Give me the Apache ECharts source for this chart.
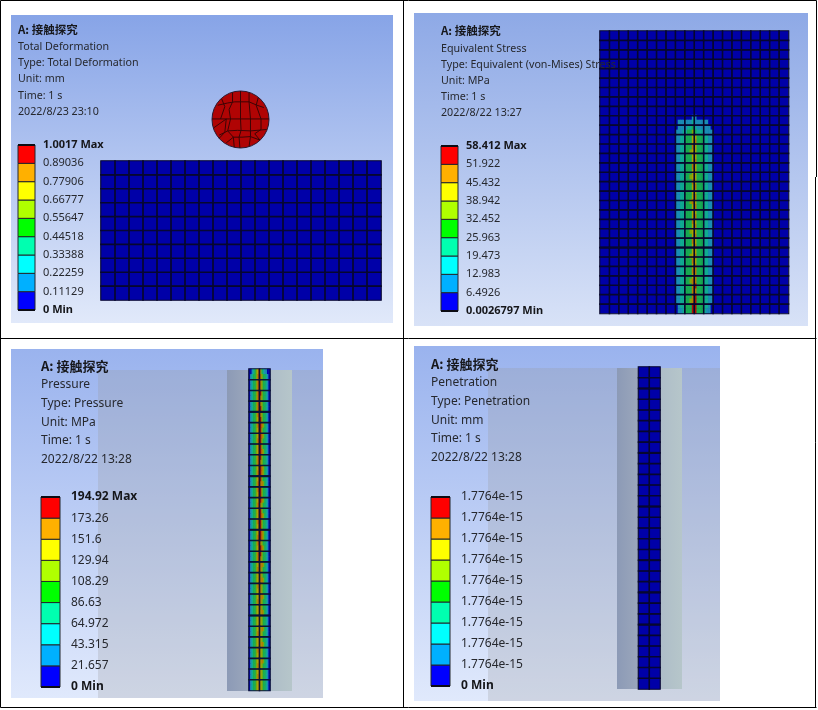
<!DOCTYPE html>
<html>
<head>
<meta charset="utf-8">
<title>接触探究</title>
<script src="https://cdn.jsdelivr.net/npm/echarts@6/dist/echarts.min.js"></script>
<style>
    html, body { margin: 0; padding: 0; background: #fff; }
    #chart { width: 818px; height: 710px; filter: blur(0.35px); }
</style>
</head>
<body>
<div id="chart"></div>
<script>
// text block of each result
const deformHeader = ['A: 接触探究', 'Total Deformation', 'Type: Total Deformation', 'Unit: mm', 'Time: 1 s', '2022/8/23 23:10']
const stressHeader = ['A: 接触探究', 'Equivalent Stress', 'Type: Equivalent (von-Mises) Stress', 'Unit: MPa', 'Time: 1 s', '2022/8/22 13:27']
const pressureHeader = ['A: 接触探究', 'Pressure', 'Type: Pressure', 'Unit: MPa', 'Time: 1 s', '2022/8/22 13:28']
const penetrationHeader = ['A: 接触探究', 'Penetration', 'Type: Penetration', 'Unit: mm', 'Time: 1 s', '2022/8/22 13:28']

// legend tick labels, bottom to top
const deformTicks = ['0 Min', '0.11129', '0.22259', '0.33388', '0.44518', '0.55647', '0.66777', '0.77906', '0.89036', '1.0017 Max']
const stressTicks = ['0.0026797 Min', '6.4926', '12.983', '19.473', '25.963', '32.452', '38.942', '45.432', '51.922', '58.412 Max']
const pressureTicks = ['0 Min', '21.657', '43.315', '64.972', '86.63', '108.29', '129.94', '151.6', '173.26', '194.92 Max']
const penetrationTicks = ['0 Min', '1.7764e-15', '1.7764e-15', '1.7764e-15', '1.7764e-15', '1.7764e-15', '1.7764e-15', '1.7764e-15', '1.7764e-15', '1.7764e-15']

// legend bands: lower and upper tick index, bottom to top
const legendBands = [[0, 1], [1, 2], [2, 3], [3, 4], [4, 5], [5, 6], [6, 7], [7, 8], [8, 9]]
const legendColors = ['#0000ff', '#00b0ff', '#00ffff', '#00ffb0', '#00ff00', '#b0ff00', '#ffff00', '#ffb000', '#ff0000']
const fieldColors = ['#0000a8', '#1a8cb4', '#00a8a8', '#10ac90', '#18ac50', '#7aa808', '#aca400', '#b87800', '#b01000']

// contour band per cell
const deformRows = [
    '00000000000000000000', '00000000000000000000', '00000000000000000000', '00000000000000000000', '00000000000000000000',
    '00000000000000000000', '00000000000000000000', '00000000000000000000', '00000000000000000000', '00000000000000000000',
]
const stressRows = [
    '0000000110000000', '0111111311111100', '0111133431111110', '1113344543331111',
    '1133444664443311', '1133444674443311', '1133444764443311', '1133445664443311',
    '1133444664443311', '1133444674443311', '1133444764443311', '1133444664443311',
    '1133445664443311', '1133444764443311', '1133444674443311', '1133444664443311',
    '1133444674443311', '1133445764443311', '1133444674443311', '1133444664443311',
    '1133444674443311', '1133444764443311', '1133444674443311', '1133445664443311',
    '1133444674443311', '1133444764443311', '1133444674443311', '1133444664443311',
    '1133445674443311', '1133444764443311', '1133444674443311', '1133444774443311',
    '1133444674443311', '1133445774443311', '1133444784443311', '1133444774443311',
    '1133444784443311', '1133445784443311', '0133444884443310', '0113444884443110',
]
const pressureRows = [
    '001345686431100', '013445787544310', '013445787544310', '013445787544310', '013445788544310', '013445787544310',
    '013445787544310', '013445788544310', '013445787544310', '013445688544310', '013445788754310', '013445688544310',
    '013445688754310', '013445788544310', '013445688544310', '013445688754310', '013445788544310', '013445787544310',
    '013445688754310', '013445788754310', '013445688544310', '013445787754310', '013445788544310', '013445688544310',
    '013445688754310', '013445787544310', '013445688544310', '013445688754310', '013445788544310', '013445688544310',
    '013445688754310', '013445788754310', '013445787544310', '013445688754310', '013445788544310', '013445787544310',
    '013445677754310', '013445777544310', '013445677544310', '013445677754310', '013445777544310', '013445677544310',
    '013445677754310', '013445777544310', '013445677544310', '013445676754310', '013445676544310', '013445676544310',
    '013445676754310', '013445776544310', '013445676544310', '013445676754310', '013445776544310', '013445676544310',
    '013445676754310', '013445776544310', '013445676544310', '013445776544310', '013445676544310', '013445676544310',
]
const penetrationRows = [
    '00', '00', '00', '00', '00', '00', '00', '00', '00', '00',
    '00', '00', '00', '00', '00', '00', '00', '00', '00', '00',
    '00', '00', '00', '00', '00', '00', '00', '00', '00', '00',
]

// mesh size and the heavier element rows of each result
const deformMesh = { cols: 20, rows: 10, heavy: [] }
const stressMesh = { cols: 20, rows: 30, heavy: [23] }
const pressureMesh = { cols: 2, rows: 30, heavy: [4, 10, 15, 23] }
const penetrationMesh = { cols: 2, rows: 30, heavy: [2, 8, 13, 18, 21, 24] }

// mesh of the ball, in radius units from its centre
const ballCentre = [[0, 0]]
const ballMeshLines = [
    [[-1, 0.02], [1, 0.02]],
    [[-0.8, 0.5], [-0.45, 0.58], [-0.2, 0.62], [0.3, 0.62], [0.58, 0.5], [0.82, 0.42]],
    [[-0.75, -0.55], [-0.45, -0.4], [-0.1, -0.38], [0.35, -0.4], [0.92, -0.35]],
    [[-0.5, -0.82], [-0.25, -0.62], [0.05, -0.62], [0.35, -0.6], [0.68, -0.72]],
    [[-0.28, 0.95], [-0.28, 0.62], [-0.4, 0.35], [-0.35, 0.02], [-0.45, -0.4], [-0.25, -0.62], [-0.22, -0.97]],
    [[0, 1], [0, 0.02], [0.02, -0.38], [-0.05, -0.62], [-0.02, -1]],
    [[0.3, 0.95], [0.3, 0.62], [0.35, 0.02], [0.35, -0.4], [0.35, -0.6], [0.3, -0.95]],
    [[0.62, 0.76], [0.55, 0.5], [0.72, 0.02], [0.72, -0.35], [0.5, -0.5], [0.68, -0.72]],
    [[-0.66, 0.72], [-0.55, 0.45], [-0.7, 0.02]],
    [[-0.95, -0.3], [-0.5, 0.02], [-0.55, -0.45], [-0.75, -0.66]],
]

var grids = [], xAxes = [], yAxes = [], series = [], graphics = []

function addGrid(rect, xAxis, yAxis, extra) {
    grids.push(Object.assign({ left: rect[0], top: rect[1], width: rect[2], height: rect[3] }, extra))
    xAxes.push(Object.assign({ gridIndex: grids.length - 1 }, xAxis))
    yAxes.push(Object.assign({ gridIndex: grids.length - 1 }, yAxis))
    return grids.length - 1
}

function range(n) {
    var list = []
    for (var i = 0; i < n; i++) list.push(i)
    return list
}

function addCategoryGrid(rect, cols, rows) {
    return addGrid(rect,
        { type: 'category', show: false, data: range(cols) },
        { type: 'category', show: false, inverse: true, data: range(rows) })
}

// contour cells through a category grid
function addField(rect, rows) {
    var idx = addCategoryGrid(rect, rows[0].length, rows.length)
    var cells = []
    rows.forEach(function (row, r) {
        row.split('').forEach(function (level, c) {
            cells.push({ value: [c, r, +level], itemStyle: { color: fieldColors[+level] } })
        })
    })
    series.push({ type: 'heatmap', xAxisIndex: idx, yAxisIndex: idx, data: cells, silent: true, z: 2 })
}

// elements are empty outlined cells laid over the contour
function addMesh(rect, mesh, lineColor) {
    var idx = addCategoryGrid(rect, mesh.cols, mesh.rows)
    var cells = []
    range(mesh.rows).forEach(function (r) {
        range(mesh.cols).forEach(function (c) {
            cells.push([c, r, 0])
        })
    })
    series.push({
        type: 'heatmap', xAxisIndex: idx, yAxisIndex: idx, data: cells, silent: true, z: 5,
        itemStyle: { color: 'rgba(0,0,0,0)', borderColor: lineColor, borderWidth: 1.1 },
    })
    var lineIdx = addGrid(rect,
        { type: 'value', show: false, min: 0, max: mesh.cols },
        { type: 'value', show: false, min: 0, max: mesh.rows, inverse: true })
    mesh.heavy.forEach(function (row) {
        series.push({
            type: 'line', xAxisIndex: lineIdx, yAxisIndex: lineIdx, data: [[0, row], [mesh.cols, row]], symbol: 'none', silent: true, z: 6,
            lineStyle: { color: lineColor, width: 2 },
        })
    })
}

// nine stacked bands, tick labels on the right edge
function addLegend(rect, ticks, fontSize, margin) {
    var idx = addGrid(rect,
        { type: 'value', show: false, min: 0, max: 1 },
        {
            type: 'value', position: 'right', min: 0, max: legendBands.length, interval: 1,
            axisLine: { show: false }, axisTick: { show: false }, splitLine: { show: false },
            axisLabel: {
                margin: margin,
                formatter: function (v) {
                    var text = ticks[v]
                    return /M(ax|in)$/.test(text) ? '{b|' + text + '}' : text
                },
                fontFamily: 'Noto Sans', fontSize: fontSize, color: '#26282e',
                rich: { b: { fontFamily: 'Noto Sans', fontSize: fontSize, fontWeight: 'bold', color: '#15161a' } },
            },
        })
    series.push({
        type: 'custom', xAxisIndex: idx, yAxisIndex: idx, silent: true, z: 2, clip: false,
        data: legendBands,
        encode: { y: [0, 1] },
        renderItem: function (params, api) {
            var low = api.coord([0, api.value(0)])
            var high = api.coord([1, api.value(1)])
            var band = {
                type: 'rect',
                shape: { x: low[0], y: high[1], width: high[0] - low[0], height: low[1] - high[1] },
                style: { fill: legendColors[params.dataIndex], stroke: '#23262c', lineWidth: 1 },
            }
            var edges = [band]
            // the scale ends carry a heavier rule
            if (params.dataIndex == 0 || params.dataIndex == legendBands.length - 1) {
                var y = params.dataIndex == 0 ? low[1] : high[1]
                edges.push({
                    type: 'line',
                    shape: { x1: low[0], y1: y, x2: high[0], y2: y },
                    style: { stroke: '#0c0c14', lineWidth: 2 },
                })
            }
            return { type: 'group', children: edges }
        },
    })
}

function addHeader(lines, x, ys, titleSize, fontSize) {
    lines.forEach(function (text, i) {
        graphics.push({
            type: 'text', x: x, y: ys[i], z: 20, silent: true,
            style: {
                text: text, fill: i == 0 ? '#17181c' : '#26282e', verticalAlign: 'middle',
                font: i == 0 ? 'bold ' + titleSize + 'px "Noto Sans CJK SC"' : fontSize + 'px "Noto Sans"',
            },
        })
    })
}

function addPanel(rect, top, bottom) {
    graphics.push({
        type: 'rect', shape: { x: rect[0], y: rect[1], width: rect[2], height: rect[3] }, z: -5, silent: true,
        style: { fill: new echarts.graphic.LinearGradient(0, 0, 0, 1, [{ offset: 0, color: top }, { offset: 1, color: bottom }]) },
    })
}

// translucent target body behind the contact strip
function addTarget(veil, strip) {
    graphics.push({
        type: 'rect', shape: { x: veil[0], y: veil[1], width: veil[2], height: veil[3] }, z: -4, silent: true,
        style: { fill: 'rgba(150,150,150,0.25)' },
    })
    graphics.push({
        type: 'rect', shape: { x: strip[0], y: strip[1], width: strip[2], height: strip[3] }, z: -3, silent: true,
        style: {
            fill: new echarts.graphic.LinearGradient(0, 0, 1, 0, [
                { offset: 0, color: '#8c9ab6' }, { offset: 0.33, color: '#9ba7bc' },
                { offset: 0.67, color: '#aebdc8' }, { offset: 1, color: '#b6c6ca' },
            ]),
        },
    })
}

// table rules of the page
function addRule(x1, y1, x2, y2) {
    graphics.push({
        type: 'line', shape: { x1: x1, y1: y1, x2: x2, y2: y2 }, z: 30, silent: true,
        style: { stroke: '#000', lineWidth: 1 },
    })
}

// total deformation
addPanel([11, 15, 382, 308], '#87a4e7', '#e1e9fa')
addField([101, 161, 280, 139], deformRows)
addMesh([101, 161, 280, 139], deformMesh, '#07072e')
addLegend([18, 145, 17, 165], deformTicks, 11, 8)
addHeader(deformHeader, 18, [29.5, 46.5, 62.5, 79, 95.5, 111.5], 11.5, 10.7)

var ballIdx = addGrid([212, 91, 57, 57],
    { type: 'value', show: false, min: -1, max: 1 },
    { type: 'value', show: false, min: -1, max: 1 })
series.push({
    type: 'scatter', xAxisIndex: ballIdx, yAxisIndex: ballIdx, data: ballCentre, symbolSize: 57, silent: true, z: 2,
    itemStyle: { color: '#b00404', opacity: 1, borderColor: '#2c1a30', borderWidth: 1 },
})
ballMeshLines.forEach(function (meshLine) {
    series.push({
        type: 'line', xAxisIndex: ballIdx, yAxisIndex: ballIdx, data: meshLine, symbol: 'none', clip: false, silent: true, z: 3,
        lineStyle: { color: '#3c0404', width: 1 },
    })
})

// equivalent stress
addPanel([414, 13, 394, 313], '#8ea9e6', '#d8e2f7')
addGrid([600, 31, 188.5, 282.5],
    { type: 'value', show: false, min: 0, max: 1 },
    { type: 'value', show: false, min: 0, max: 1 },
    { show: true, backgroundColor: fieldColors[0], borderWidth: 0 })
addField([675.6, 115, 37.6, 198.5], stressRows)
addMesh([600, 31, 188.5, 282.5], stressMesh, '#07072e')
addLegend([441, 146, 17, 165], stressTicks, 11, 8)
addHeader(stressHeader, 441, [31, 48.5, 64.5, 80.5, 97, 113], 11.5, 10.7)

// pressure
addPanel([11, 349, 312, 349], '#9ab3ee', '#e0e9fc')
addTarget([98, 370, 225, 328], [227, 370, 65, 321])
addField([249, 369, 21, 321.5], pressureRows)
addMesh([249, 369, 21, 321.5], pressureMesh, '#0a1238')
addLegend([41, 497, 19, 190], pressureTicks, 12, 11)
addHeader(pressureHeader, 41, [366, 385, 404, 423, 441, 460], 13, 12)

// penetration
addPanel([414, 346, 306, 355], '#9ab3ee', '#e0e9fc')
addTarget([488, 368, 232, 333], [617, 368, 65, 321])
addField([638.5, 367, 21.5, 322], penetrationRows)
addMesh([638.5, 367, 21.5, 322], penetrationMesh, '#07072e')
addLegend([431, 497, 19, 189], penetrationTicks, 12, 11)
addHeader(penetrationHeader, 431, [364, 383, 402, 421, 439, 458], 13, 12)

addRule(0.5, 0.5, 816.5, 0.5)
addRule(0.5, 0.5, 0.5, 707.5)
addRule(403.5, 0.5, 403.5, 707.5)
addRule(0.5, 338.5, 816.5, 338.5)
addRule(0.5, 707.5, 816.5, 707.5)
addRule(816.5, 0.5, 816.5, 177)
addRule(815.5, 177, 815.5, 707.5)

var myChart = echarts.init(document.getElementById('chart'))
myChart.setOption({
    animation: false,
    backgroundColor: '#fff',
    grid: grids,
    xAxis: xAxes,
    yAxis: yAxes,
    series: series,
    graphic: { elements: graphics },
})
</script>
</body>
</html>
